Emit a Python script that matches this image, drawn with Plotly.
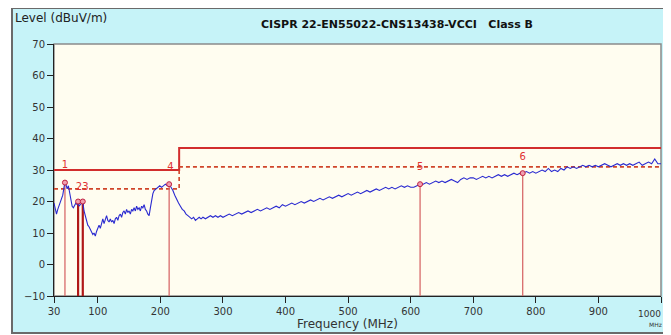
import plotly.graph_objects as go

# ---------------- data ----------------
freq_mhz = [30, 32, 34, 36, 38, 40, 42, 44, 46, 47.5, 49, 51, 53, 55, 57, 59, 61, 63, 65, 67,
            68.5, 70, 72, 74, 76, 78, 80, 82, 84, 86, 88, 90, 92, 94, 96, 98, 100, 102, 104, 106,
            108, 110, 112, 114, 116, 118, 120, 122, 124, 126, 128, 130, 132, 134, 136, 138, 140, 142, 144, 146,
            148, 150, 152, 154, 156, 158, 160, 162, 164, 166, 168, 170, 172, 174, 176, 178, 180, 182, 184, 186,
            188, 190, 193, 196, 199, 202, 205, 208, 211, 214, 217, 220, 223, 226, 229, 232, 235, 238, 241, 244,
            247, 250, 253, 256, 259, 262, 265, 268, 272, 276, 280, 284, 288, 292, 296, 300, 305, 310, 315, 320,
            325, 330, 335, 340, 345, 350, 355, 360, 365, 370, 375, 380, 385, 390, 395, 400, 405, 410, 415, 420,
            425, 430, 435, 440, 445, 450, 455, 460, 465, 470, 475, 480, 485, 490, 495, 500, 505, 510, 515, 520,
            525, 530, 535, 540, 545, 550, 555, 560, 565, 570, 575, 580, 585, 590, 595, 600, 605, 610, 615, 620,
            625, 630, 635, 640, 645, 650, 655, 660, 665, 670, 675, 680, 685, 690, 695, 700, 705, 710, 715, 720,
            725, 730, 735, 740, 745, 750, 755, 760, 765, 770, 775, 779, 785, 790, 795, 800, 805, 810, 815, 820,
            825, 830, 835, 840, 845, 850, 855, 860, 865, 870, 875, 880, 885, 890, 895, 900, 905, 910, 915, 920,
            925, 930, 935, 940, 945, 950, 955, 960, 965, 970, 975, 980, 985, 990, 995, 1000]
level_dbuv = [19.5, 18.0, 16.0, 17.5, 18.5, 19.5, 20.5, 22.0, 24.5, 26.0, 25.5, 24.0, 25.0, 23.0, 21.0, 18.5, 18.0, 19.0, 19.5, 19.0,
              20.0, 18.5, 19.0, 19.5, 20.0, 17.0, 15.5, 14.0, 12.5, 12.0, 11.0, 10.5, 9.5, 10.0, 9.0, 10.5, 11.5, 12.5, 11.5, 13.0,
              14.5, 13.0, 14.0, 15.5, 14.0, 13.5, 14.5, 13.5, 14.0, 13.0, 14.5, 15.0, 14.0, 15.5, 16.0, 15.0, 16.5, 17.0, 16.0, 17.5,
              16.5, 17.0, 16.0, 17.5, 17.0, 18.0, 17.0, 18.5, 17.5, 18.0, 17.0, 18.5, 18.0, 19.0, 17.5, 17.0, 16.0, 15.5, 18.0, 20.5,
              22.5, 23.5, 24.0, 24.5, 25.0, 24.5, 25.0, 25.5, 25.0, 25.5, 24.5, 23.5, 22.0, 20.5, 19.5, 18.5, 17.5, 17.0, 16.0, 15.5,
              15.0, 14.5, 15.0, 14.0, 14.5, 15.0, 14.5, 15.0, 14.5, 15.0, 15.5, 15.0, 15.5, 15.0, 15.5, 15.0, 15.5, 16.0, 15.5, 16.0,
              16.5, 16.0, 16.5, 17.0, 16.5, 17.0, 17.5, 17.0, 17.5, 18.0, 17.5, 18.0, 18.5, 18.0, 19.0, 18.5, 19.0, 19.5, 19.0, 19.5,
              20.0, 19.5, 20.0, 20.5, 20.0, 20.5, 21.0, 20.5, 21.0, 21.5, 21.0, 21.5, 22.0, 21.5, 22.0, 22.5, 22.0, 22.5, 23.0, 22.5,
              23.0, 23.5, 23.0, 23.5, 24.0, 23.5, 24.0, 24.5, 24.0, 24.5, 24.0, 24.5, 25.0, 24.5, 25.0, 24.5, 24.5, 25.0, 25.5, 25.5,
              26.0, 25.5, 26.0, 26.5, 26.0, 26.5, 26.0, 26.5, 27.0, 26.5, 26.0, 27.0, 27.5, 27.0, 27.5, 27.5, 27.0, 27.5, 28.0, 27.5,
              28.0, 27.5, 28.0, 28.5, 28.0, 28.5, 28.0, 28.5, 29.0, 28.5, 29.0, 29.0, 29.5, 29.0, 29.5, 29.0, 29.5, 30.0, 29.5, 30.5,
              29.5, 30.0, 29.5, 30.5, 30.0, 31.0, 30.5, 31.0, 30.5, 31.0, 31.5, 31.0, 31.5, 31.0, 31.5, 31.0, 31.5, 32.0, 31.5, 31.0,
              31.5, 32.0, 31.5, 32.0, 31.5, 32.0, 31.5, 32.0, 32.5, 31.5, 32.0, 32.5, 32.0, 33.5, 32.0, 32.0]

limit_freq = [30, 230, 230, 1000]
limit_level = [30, 30, 37, 37]
margin_freq = [30, 230, 230, 1000]
margin_level = [24, 24, 31, 31]

marker_labels = ["1", "2", "3", "4", "5", "6"]
marker_freq = [47.5, 68.5, 76, 214, 615, 779]
marker_level = [26.0, 20.0, 20.0, 25.5, 25.5, 29.0]

label_text = ["1", "23", "4", "5", "6"]
label_freq = [47.5, 75, 216, 615, 779]
label_level = [31.5, 24.3, 30.7, 30.7, 34.0]

x_ticks = [30, 100, 200, 300, 400, 500, 600, 700, 800, 900, 1000]
x_tick_text = ["30", "100", "200", "300", "400", "500", "600", "700", "800", "900", "1000"]
y_ticks = [70, 60, 50, 40, 30, 20, 10, 0, -10]

# ---------------- figure ----------------
# page body has an 8 px margin, so the figure is 8 px smaller and offset
OFF = 8
W, H = 671 - OFF, 335 - OFF
L, R, T, B = 54 - OFF, 10, 44 - OFF, 39
pw, ph = W - L - R, H - T - B

def px(x_page):
    return (x_page - OFF - L) / pw

def py(y_page):
    return (H - B - (y_page - OFF)) / ph

fig = go.Figure()

fig.add_trace(go.Scatter(x=limit_freq, y=limit_level, mode="lines",
                         line=dict(color="#d22d2d", width=2), hoverinfo="skip", showlegend=False))
fig.add_trace(go.Scatter(x=margin_freq, y=margin_level, mode="lines",
                         line=dict(color="#d0452a", width=1.6, dash="4px,3px"), hoverinfo="skip", showlegend=False))

# marker vertical lines
for i, (f, v) in enumerate(zip(marker_freq, marker_level)):
    col = "#b01818" if marker_labels[i] in ("2", "3") else "#d86a6a"
    wid = 2.2 if marker_labels[i] in ("2", "3") else 1.3
    fig.add_trace(go.Scatter(x=[f, f], y=[-10, v], mode="lines",
                             line=dict(color=col, width=wid), hoverinfo="skip", showlegend=False))

fig.add_trace(go.Scatter(x=freq_mhz, y=level_dbuv, mode="lines",
                         line=dict(color="#2a2ad0", width=1.1), showlegend=False))

fig.add_trace(go.Scatter(x=marker_freq, y=marker_level, mode="markers",
                         marker=dict(size=5, color="#f0a0b0", line=dict(color="#c02040", width=1)),
                         showlegend=False))

fig.add_trace(go.Scatter(x=label_freq, y=label_level, mode="text", text=label_text,
                         textfont=dict(color="#e03030", size=10, family="DejaVu Sans"),
                         textposition="middle center", showlegend=False, hoverinfo="skip"))

shapes = [
    dict(type="rect", xref="paper", yref="paper", x0=px(12), x1=px(676), y0=py(333), y1=py(8),
         fillcolor="#c6f3f8", line=dict(color="#6a6a6a", width=2), layer="below"),
    dict(type="rect", xref="paper", yref="paper", x0=0, x1=1, y0=0, y1=1,
         fillcolor="#fffdf0", line=dict(color="#8a8a8a", width=1.5), layer="below"),
]

tick_font = dict(size=10, color="#333", family="DejaVu Sans")

annotations = [
    dict(text="Level (dBuV/m)", x=px(13), y=py(18), xref="paper", yref="paper", showarrow=False,
         xanchor="left", yanchor="middle", font=dict(size=12, color="#222", family="DejaVu Sans")),
    dict(text="<b>CISPR 22-EN55022-CNS13438-VCCI&nbsp;&nbsp;&nbsp;Class B</b>", x=px(397), y=py(24),
         xref="paper", yref="paper", showarrow=False, xanchor="center", yanchor="middle",
         font=dict(size=11, color="#111", family="DejaVu Sans")),
    dict(text="Frequency (MHz)", x=px(347), y=py(324), xref="paper", yref="paper", showarrow=False,
         xanchor="center", yanchor="middle", font=dict(size=12, color="#333", family="DejaVu Sans")),
    # last x tick label drawn as an annotation so it fits at the right edge of the page
    dict(text=x_tick_text[-1], x=px(663), xref="paper", y=py(314), yref="paper", showarrow=False,
         xanchor="right", yanchor="middle", font=dict(size=9, color="#333", family="DejaVu Sans")),
    dict(text="MHz", x=px(655), y=py(324), xref="paper", yref="paper", showarrow=False,
         xanchor="center", yanchor="middle", font=dict(size=6, color="#333", family="DejaVu Sans")),
]

fig.update_layout(
    width=W, height=H,
    margin=dict(l=L, r=R, t=T, b=B, autoexpand=False),
    paper_bgcolor="white",
    plot_bgcolor="rgba(0,0,0,0)",
    shapes=shapes,
    annotations=annotations,
    xaxis=dict(range=[30, 1000], tickmode="array", tickvals=x_ticks,
               ticktext=x_tick_text[:-1] + [""],
               showgrid=False, zeroline=False, ticks="outside", ticklen=6, tickcolor="#222",
               showline=True, linecolor="#222", linewidth=1, tickfont=tick_font),
    yaxis=dict(range=[-10, 70], tickmode="array", tickvals=y_ticks,
               showgrid=False, zeroline=False, ticks="outside", ticklen=6, tickcolor="#222",
               showline=True, linecolor="#222", linewidth=1, tickfont=tick_font),
)

fig.write_html("out.html")
